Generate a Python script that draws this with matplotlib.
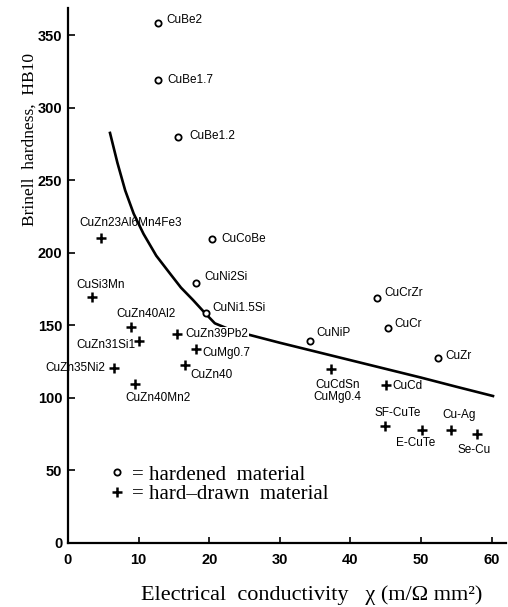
import matplotlib
matplotlib.use("Agg")
import matplotlib.pyplot as plt
from matplotlib.lines import Line2D


# hardened material (open circles)
hardened_names = ["CuBe2", "CuBe1.7", "CuBe1.2", "CuCoBe", "CuNi2Si", "CuNi1.5Si",
                  "CuNiP", "CuCrZr", "CuCr", "CuZr"]
hardened_x = [12.7, 12.7, 15.6, 20.4, 18.2, 19.5, 34.3, 43.7, 45.3, 52.4]
hardened_y = [358.6, 319, 280, 209.3, 179, 158.7, 139.4, 168.6, 148, 127.3]

# hard-drawn material (plus signs)
drawn_names = ["CuZn23Al6Mn4Fe3", "CuSi3Mn", "CuZn40Al2", "CuZn31Si1", "CuZn35Ni2",
               "CuZn40Mn2", "CuZn39Pb2", "CuMg0.7", "CuZn40", "CuCdSn\nCuMg0.4",
               "CuCd", "SF-CuTe", "E-CuTe", "Cu-Ag", "Se-Cu"]
drawn_x = [4.7, 3.4, 8.9, 10.1, 6.5, 9.5, 15.4, 18.2, 16.6, 37.2,
           45.0, 44.9, 50.1, 54.2, 58.0]
drawn_y = [210.2, 169.3, 149.1, 139.4, 120.6, 109.6, 144, 134, 122.7, 119.7,
           108.9, 80.6, 77.9, 77.9, 75.1]

# trend curve
curve_x = [5.95, 7.0, 8.1, 9.3, 10.7, 12.5, 14.4, 16.0, 17.7, 19.3, 20.8, 23.0,
           25.8, 30.0, 35.0, 40.0, 45.0, 50.0, 55.0, 60.2]
curve_y = [282.6, 262, 243, 227, 213, 198, 186, 176, 167.5, 159, 151.4, 147,
           143.3, 138, 132, 126, 120, 114, 107.7, 101.3]

x_ticks = [0, 10, 20, 30, 40, 50, 60]
y_ticks = [0, 50, 100, 150, 200, 250, 300, 350]

# label placement: (dx, dy) in pixels, horizontal alignment
hardened_offsets = [(8.7, 2.7, "left"), (9.3, 0, "left"), (11.7, 0.7, "left"),
                    (9.3, 0.3, "left"), (8.3, 6.3, "left"), (6.3, 4.7, "left"),
                    (6, 7.7, "left"), (8.3, 5.3, "left"), (6.3, 4.3, "left"),
                    (7.3, 2.3, "left")]
drawn_offsets = [(29.3, 15, "center"), (8.7, 12.3, "center"), (15.3, 12.7, "center"),
                 (-4.3, -4.3, "right"), (-9, 0, "right"), (-10, -14.5, "left"),
                 (8.3, 0, "left"), (6.3, -4.7, "left"), (5, -10, "left"),
                 (6.8, -21.5, "center"), (7, -1, "left"), (13, 13, "center"),
                 (-6.2, -13, "center"), (8.3, 15, "center"), (-3.7, -16, "center")]

LABEL_FONT = ["Liberation Sans Narrow", "Liberation Sans", "DejaVu Sans"]
SERIF = ["Liberation Serif", "DejaVu Serif"]


def main() -> None:
    fig = plt.figure(figsize=(5.08, 6.07), dpi=100)
    ax = fig.add_axes([68 / 508, 64 / 607, 437.7 / 508, 535 / 607])

    ax.plot(curve_x, curve_y, color="black", lw=1.9, zorder=2)
    ax.plot(hardened_x, hardened_y, ls="none", marker="o", ms=4.5, mfc="white",
            mec="black", mew=1.3, zorder=4)
    ax.plot(drawn_x, drawn_y, ls="none", marker="+", ms=7, mec="black",
            mew=1.8, zorder=4)

    for name, x, y, (dx, dy, ha) in zip(hardened_names, hardened_x, hardened_y,
                                          hardened_offsets):
        ax.annotate(name, (x, y), xytext=(dx, dy), textcoords="offset pixels",
                    ha=ha, va="center", fontsize=8.5, family=LABEL_FONT)
    for name, x, y, (dx, dy, ha) in zip(drawn_names, drawn_x, drawn_y, drawn_offsets):
        bbox = None
        if name == "CuZn39Pb2":
            bbox = dict(fc="white", ec="none", pad=0.5)
        ax.annotate(name, (x, y), xytext=(dx, dy), textcoords="offset pixels",
                    ha=ha, va="center", fontsize=8.5, family=LABEL_FONT,
                    linespacing=1.0, bbox=bbox, zorder=3)

    ax.set_xlim(0, 62)
    ax.set_ylim(0, 368.7)
    ax.set_xticks(x_ticks)
    ax.set_yticks(y_ticks)
    for lab in ax.get_xticklabels() + ax.get_yticklabels():
        lab.set_family(["Liberation Sans", "DejaVu Sans"])
        lab.set_fontweight("bold")
        lab.set_fontsize(10.5)
    ax.tick_params(axis="x", direction="in", length=4, width=1.2, pad=7)
    ax.tick_params(axis="y", direction="in", length=5, width=1.2, pad=4)
    for side in ("top", "right"):
        ax.spines[side].set_visible(False)
    for side in ("left", "bottom"):
        ax.spines[side].set_linewidth(1.6)

    handles = [
        Line2D([], [], ls="none", marker="o", ms=4.5, mfc="white", mec="black", mew=1.3),
        Line2D([], [], ls="none", marker="+", ms=7, mec="black", mew=1.8),
    ]
    ax.legend(handles, ["= hardened  material", "= hard\u2013drawn  material"],
              loc="upper left", bbox_to_anchor=(0.07, 0.165), frameon=False,
              handlelength=0.8, handletextpad=0.3, labelspacing=0.0,
              borderpad=0, prop={"family": SERIF, "size": 15})

    fig.text(311.5 / 508, 1 - 595 / 607, "Electrical  conductivity   \u03c7 (m/\u03a9 mm\u00b2)",
             ha="center", va="center", fontsize=16, family=SERIF)
    fig.text(30 / 508, 1 - 139 / 607, "Brinell  hardness,  HB10", rotation=90,
             ha="center", va="center", fontsize=12.5, family=SERIF)

    fig.savefig("out.png", dpi=100)
    plt.close(fig)


if __name__ == "__main__":
    main()
